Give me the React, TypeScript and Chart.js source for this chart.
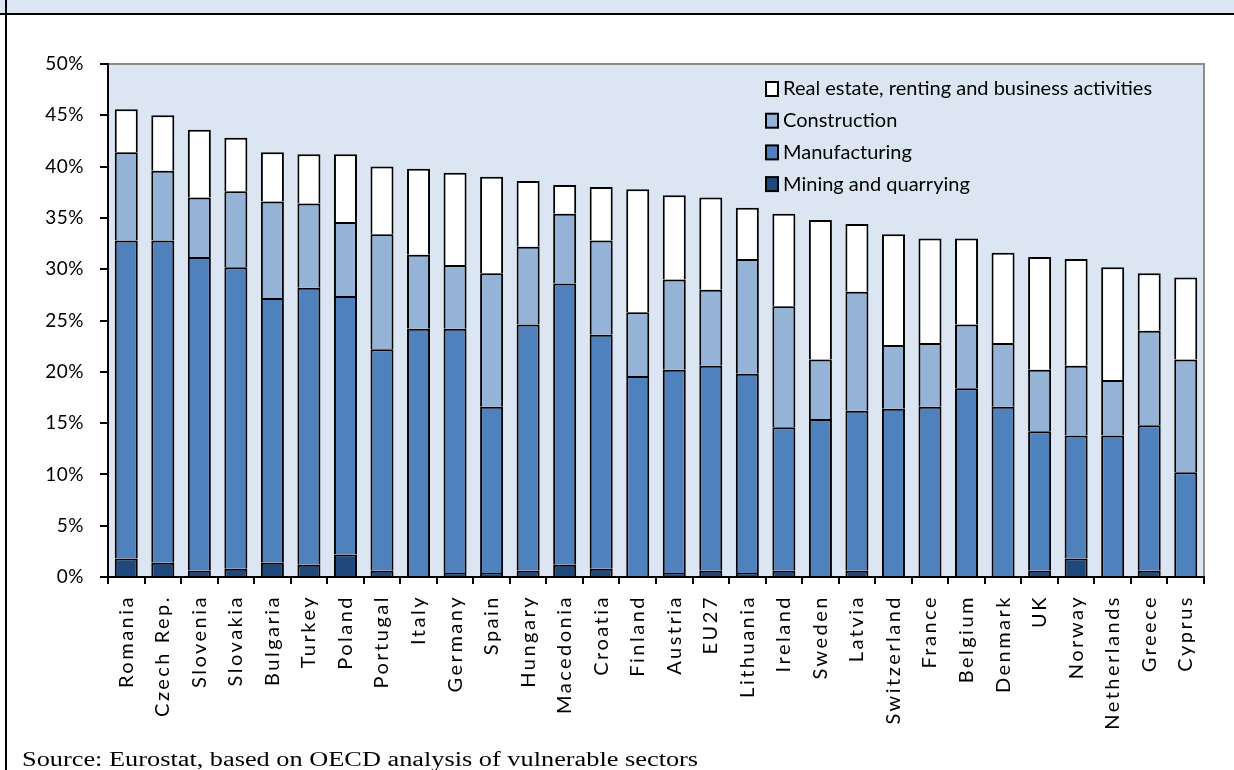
import React, { useEffect, useRef } from "react";
import { Chart, registerables } from "chart.js";

Chart.register(...registerables);

const categories = [
  "Romania", "Czech Rep.", "Slovenia", "Slovakia", "Bulgaria", "Turkey", "Poland", "Portugal",
  "Italy", "Germany", "Spain", "Hungary", "Macedonia", "Croatia", "Finland", "Austria", "EU27",
  "Lithuania", "Ireland", "Sweden", "Latvia", "Switzerland", "France", "Belgium", "Denmark", "UK",
  "Norway", "Netherlands", "Greece", "Cyprus",
];

const mining = [1.8, 1.4, 0.6, 0.8, 1.4, 1.2, 2.2, 0.6, 0, 0.4, 0.4, 0.6, 1.2, 0.8, 0, 0.4, 0.6, 0.4, 0.6, 0, 0.6, 0, 0, 0, 0, 0.6, 1.8, 0, 0.6, 0];
const manufacturing = [31.0, 31.4, 30.6, 29.4, 25.8, 27.0, 25.2, 21.6, 24.2, 23.8, 16.2, 24.0, 27.4, 22.8, 19.6, 19.8, 20.0, 19.4, 14.0, 15.4, 15.6, 16.4, 16.6, 18.4, 16.6, 13.6, 12.0, 13.8, 14.2, 10.2];
const construction = [8.6, 6.8, 5.8, 7.4, 9.4, 8.2, 7.2, 11.2, 7.2, 6.2, 13.0, 7.6, 6.8, 9.2, 6.2, 8.8, 7.4, 11.2, 11.8, 5.8, 11.6, 6.2, 6.2, 6.2, 6.2, 6.0, 6.8, 5.4, 9.2, 11.0];
const realEstate = [4.2, 5.4, 6.6, 5.2, 4.8, 4.8, 6.6, 6.6, 8.4, 9.0, 9.4, 6.4, 2.8, 5.2, 12.0, 8.2, 9.0, 5.0, 9.0, 13.6, 6.6, 10.8, 10.2, 8.4, 8.8, 11.0, 10.4, 11.0, 5.6, 8.0];

const seriesNames = [
  "Mining and quarrying",
  "Manufacturing",
  "Construction",
  "Real estate, renting and business activities",
];
const seriesColors = ["#1F497D", "#4F81BD", "#95B3D7", "#FFFFFF"];

const yMin = 0;
const yMax = 50;
const yStep = 5;

const sourceText = "Source: Eurostat, based on OECD analysis of vulnerable sectors";

const FONT = "Lato, 'Open Sans', sans-serif";

const bgPlugin = {
  id: "plotBg",
  beforeDraw(chart: any) {
    const { ctx, chartArea } = chart;
    const { left, top, right, bottom } = chartArea;
    ctx.save();
    ctx.fillStyle = "#DCE6F2";
    ctx.fillRect(left, top, right - left, bottom - top);
    ctx.strokeStyle = "#8C8C8C";
    ctx.lineWidth = 2;
    ctx.beginPath();
    ctx.moveTo(left, top);
    ctx.lineTo(right, top);
    ctx.lineTo(right, bottom);
    ctx.stroke();
    ctx.restore();
    (ctx as any).letterSpacing = "0.5px";
  },
  afterDatasetsDraw(chart: any) {
    (chart.ctx as any).letterSpacing = "2.5px";
  },
};

const legendPlugin = {
  id: "innerLegend",
  afterDraw(chart: any) {
    const { ctx, chartArea } = chart;
    ctx.save();
    (ctx as any).letterSpacing = "0px";
    const x0 = chartArea.right - 438;
    const y0 = chartArea.top + 25;
    const rowH = 31.7;
    const ds = chart.data.datasets;
    for (let k = 0; k < ds.length; k++) {
      const d = ds[ds.length - 1 - k];
      const cy = y0 + k * rowH;
      ctx.fillStyle = d.backgroundColor;
      ctx.fillRect(x0, cy - 7, 12, 14);
      ctx.strokeStyle = "#000";
      ctx.lineWidth = 2;
      ctx.strokeRect(x0, cy - 7, 12, 14);
      ctx.fillStyle = "#000";
      ctx.font = `20px ${FONT}`;
      ctx.textBaseline = "middle";
      ctx.textAlign = "left";
      ctx.fillText(d.label, x0 + 17, cy);
    }
    ctx.restore();
  },
};

export default function App() {
  const ref = useRef<HTMLCanvasElement>(null);

  useEffect(() => {
    document.body.style.margin = "0";
    const toNull = (arr: number[]) => arr.map((v) => (v === 0 ? null : v));
    const values = [mining, manufacturing, construction, realEstate];
    const chart = new Chart(ref.current as HTMLCanvasElement, {
      type: "bar",
      data: {
        labels: categories,
        datasets: values.map((arr, i) => ({
          label: seriesNames[i],
          data: toNull(arr),
          backgroundColor: seriesColors[i],
          borderColor: "#000000",
          borderWidth: 2,
          barPercentage: 0.63,
          categoryPercentage: 1,
        })),
      },
      options: {
        responsive: false,
        animation: false,
        layout: { padding: { top: 64, right: 30, left: 0, bottom: 0 } },
        plugins: {
          legend: { display: false },
          tooltip: { enabled: false },
        },
        scales: {
          x: {
            stacked: true,
            afterFit(scale: any) {
              scale.height = 193;
            },
            grid: {
              offset: true,
              drawOnChartArea: false,
              drawTicks: true,
              tickLength: 7,
              color: "#000",
              lineWidth: 2,
            },
            border: { display: true, color: "#000", width: 2, z: 1 },
            ticks: {
              z: 1,
              autoSkip: false,
              maxRotation: 90,
              minRotation: 90,
              padding: 11,
              color: "#000",
              font: { family: FONT, size: 20 },
            },
          },
          y: {
            stacked: true,
            min: yMin,
            max: yMax,
            afterFit(scale: any) {
              scale.width = 108;
            },
            grid: {
              drawOnChartArea: false,
              drawTicks: true,
              tickLength: 8,
              color: "#000",
              lineWidth: 2,
            },
            border: { display: true, color: "#000", width: 2 },
            ticks: {
              stepSize: yStep,
              padding: 16,
              color: "#000",
              font: { family: FONT, size: 19 },
              callback: (v: any) => `${v}%`,
            },
          },
        },
      },
      plugins: [bgPlugin, legendPlugin],
    });
    return () => chart.destroy();
  }, []);

  return (
    <div style={{ position: "relative", width: 1234, height: 770, overflow: "hidden", background: "#fff" }}>
      <div
        style={{
          position: "absolute",
          left: 0,
          top: 0,
          width: 1234,
          height: 13,
          background: "#DCE6F2",
          borderBottom: "2px solid #000",
        }}
      />
      <div style={{ position: "absolute", left: 5, top: 0, width: 2, height: 770, background: "#000" }} />
      <canvas ref={ref} width={1234} height={770} style={{ position: "absolute", left: 0, top: 0 }} />
      <div
        style={{
          position: "absolute",
          left: 22,
          top: 749,
          fontFamily: "'Liberation Serif', serif",
          fontSize: 20,
          lineHeight: "20px",
          color: "#000",
          whiteSpace: "nowrap",
          transform: "scaleX(1.316)",
          transformOrigin: "left top",
        }}
      >
        {sourceText}
      </div>
    </div>
  );
}
